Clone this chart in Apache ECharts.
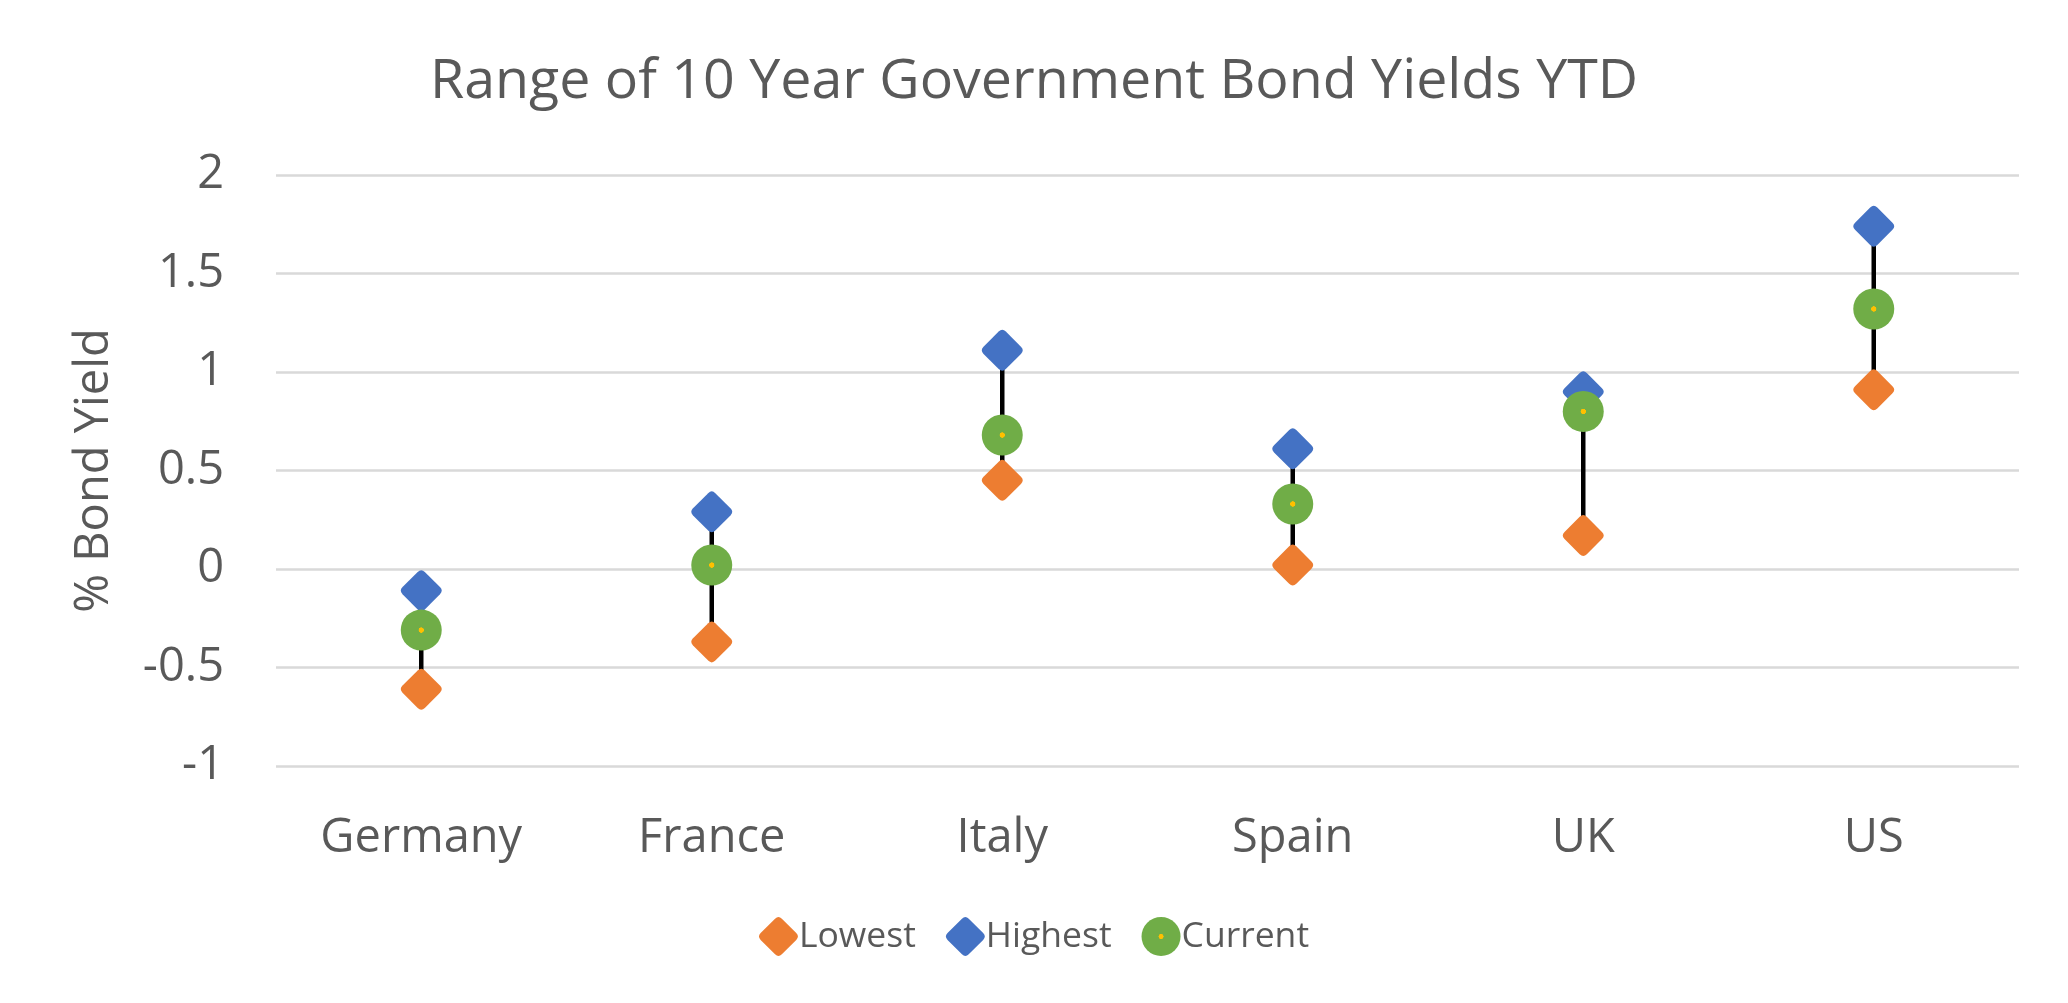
<!DOCTYPE html>
<html>
<head>
<meta charset="utf-8">
<script src="https://cdn.jsdelivr.net/npm/echarts@6/dist/echarts.min.js"></script>
<style>
html,body{margin:0;padding:0;background:#fff;}
#chart{width:2068px;height:1003px;}
</style>
</head>
<body>
<div id="chart"></div>
<script>
const categories = ['Germany', 'France', 'Italy', 'Spain', 'UK', 'US'];
const lowest  = [-0.61, -0.37, 0.45, 0.02, 0.17, 0.91];
const highest = [-0.11, 0.29, 1.11, 0.61, 0.90, 1.74];
const current = [-0.31, 0.02, 0.68, 0.33, 0.80, 1.32];
const yTicks = { min: -1, max: 2, interval: 0.5 };

const FONT = '"Open Sans", "Noto Sans", sans-serif';
const TEXT = '#595959';
const diamond = 'path://M42,8 Q50,0 58,8 L92,42 Q100,50 92,58 L58,92 Q50,100 42,92 L8,58 Q0,50 8,42 Z';

const chart = echarts.init(document.getElementById('chart'), null, { renderer: 'canvas' });

const rangeData = categories.map((c, i) => [i, lowest[i], highest[i]]);

chart.setOption({
  animation: false,
  backgroundColor: '#ffffff',
  title: {
    text: 'Range of 10 Year Government Bond Yields YTD',
    left: 'center',
    top: 49,
    textStyle: { fontFamily: FONT, fontSize: 55.5, fontWeight: 'normal', color: TEXT }
  },
  legend: {
    bottom: 42,
    left: 'center',
    itemWidth: 39,
    itemHeight: 42,
    itemGap: 30,
    textStyle: { fontFamily: FONT, fontSize: 35.5, color: TEXT, padding: [0, 0, 0, -4] },
    data: [
      { name: 'Lowest', icon: diamond },
      { name: 'Highest', icon: diamond },
      { name: 'Current', icon: 'circle' }
    ]
  },
  grid: { left: 276, right: 49, top: 175, bottom: 237, containLabel: false },
  xAxis: {
    type: 'category',
    data: categories,
    axisLine: { show: false },
    axisTick: { show: false },
    axisLabel: { fontFamily: FONT, fontSize: 47, color: TEXT, margin: 49 },
    splitLine: { show: false }
  },
  yAxis: {
    type: 'value',
    min: yTicks.min,
    max: yTicks.max,
    interval: yTicks.interval,
    name: '% Bond Yield',
    nameLocation: 'middle',
    nameGap: 158,
    nameRotate: 90,
    nameTextStyle: { fontFamily: FONT, fontSize: 47, color: TEXT },
    axisLine: { show: false },
    axisTick: { show: false },
    axisLabel: { fontFamily: FONT, fontSize: 47, color: TEXT, margin: 52 },
    splitLine: { lineStyle: { color: '#D9D9D9', width: 2.5 } }
  },
  series: [
    {
      type: 'custom',
      name: 'range',
      silent: true,
      z: 1,
      data: rangeData,
      encode: { x: 0, y: [1, 2] },
      renderItem: function (params, api) {
        const p1 = api.coord([api.value(0), api.value(1)]);
        const p2 = api.coord([api.value(0), api.value(2)]);
        return {
          type: 'line',
          shape: { x1: p1[0], y1: p1[1], x2: p2[0], y2: p2[1] },
          style: { stroke: '#000000', lineWidth: 4.5 }
        };
      }
    },
    {
      type: 'scatter',
      name: 'Lowest',
      z: 3,
      symbol: diamond,
      symbolSize: 41,
      itemStyle: { color: '#ED7D31', opacity: 1 },
      data: lowest
    },
    {
      type: 'scatter',
      name: 'Highest',
      z: 3,
      symbol: diamond,
      symbolSize: 41,
      itemStyle: { color: '#4472C4', opacity: 1 },
      data: highest
    },
    {
      type: 'scatter',
      name: 'Current',
      z: 4,
      symbol: 'circle',
      symbolSize: 41,
      itemStyle: {
        opacity: 1,
        color: {
          type: 'radial', x: 0.5, y: 0.5, r: 0.5,
          colorStops: [
            { offset: 0, color: '#FFC000' },
            { offset: 0.12, color: '#FFC000' },
            { offset: 0.14, color: '#70AD47' },
            { offset: 1, color: '#70AD47' }
          ]
        }
      },
      data: current
    }
  ]
});
</script>
</body>
</html>
